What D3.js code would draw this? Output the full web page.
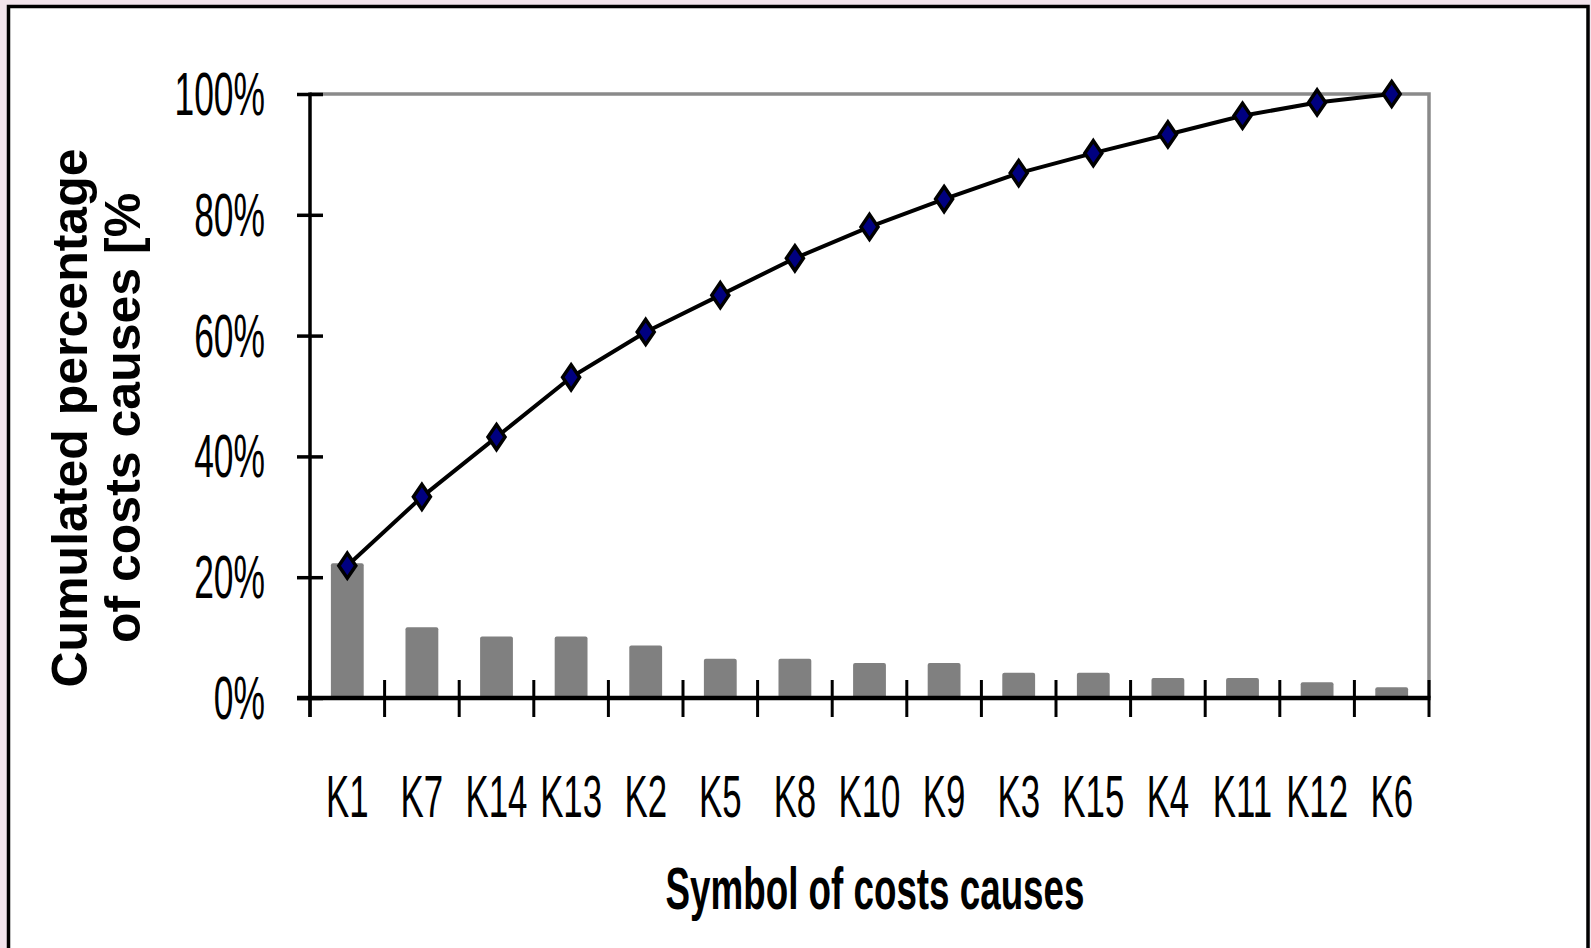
<!DOCTYPE html>
<html><head><meta charset="utf-8">
<script src="https://cdn.jsdelivr.net/npm/d3@7"></script>
<style>html,body{margin:0;padding:0;background:#f2e4ec;overflow:hidden}</style>
</head><body><svg id="c" width="1591" height="948"></svg>
<script>
const categories = ["K1","K7","K14","K13","K2","K5","K8","K10","K9","K3","K15","K4","K11","K12","K6"];
const shares = [22.3, 11.7, 10.2, 10.2, 8.7, 6.5, 6.5, 5.8, 5.8, 4.2, 4.2, 3.3, 3.3, 2.6, 1.8];
const cumulated = [21.9, 33.3, 43.2, 53.1, 60.6, 66.7, 72.8, 78.0, 82.6, 86.9, 90.2, 93.3, 96.4, 98.6, 100];
const yTicks = [0, 20, 40, 60, 80, 100];
const yTickLabels = ["0%", "20%", "40%", "60%", "80%", "100%"];
const xTitle = "Symbol of costs causes";
const yTitleLines = ["Cumulated percentage", "of costs causes [%"];

const W = 1591, H = 948;
const svg = d3.select("#c");
svg.append("rect").attr("width", W).attr("height", H).attr("fill", "#f2e4ec");
svg.append("rect").attr("x", 8.5).attr("y", 6.5).attr("width", 1579.5).attr("height", 980)
  .attr("fill", "#fff").attr("stroke", "#000").attr("stroke-width", 3.5);

const x = d3.scaleBand().domain(categories).range([310, 1429]).padding(0);
const y = d3.scaleLinear().domain([0, 100]).range([698, 94]);
const cx = c => x(c) + x.bandwidth() / 2;

// gray plot frame (top + right)
svg.append("path")
  .attr("d", `M${x.range()[0]},${y(100)}H${x.range()[1]}V${y(0)}`)
  .attr("fill", "none").attr("stroke", "#8a8a8a").attr("stroke-width", 3.5);

// bars
const bw = x.bandwidth() * 0.44;
svg.append("g").selectAll("rect").data(shares).join("rect")
  .attr("x", (d, i) => cx(categories[i]) - bw / 2)
  .attr("y", d => y(d))
  .attr("width", bw)
  .attr("height", d => y(0) - y(d))
  .attr("rx", 2)
  .attr("fill", "#808080");

// x axis
const xAxisG = svg.append("g").attr("transform", `translate(0,${y(0)})`)
  .call(d3.axisBottom(x).tickSize(0).tickFormat(""));
xAxisG.select(".domain").remove();
const bounds = categories.map(c => x(c)).concat([x.range()[1]]);
xAxisG.selectAll("line.bt").data(bounds).join("line").attr("class", "bt")
  .attr("x1", d => d).attr("x2", d => d).attr("y1", -18).attr("y2", 19)
  .attr("stroke", "#000").attr("stroke-width", 3);
xAxisG.append("line").attr("x1", 297).attr("x2", x.range()[1] + 1.5)
  .attr("stroke", "#000").attr("stroke-width", 4.5);

// x tick labels
svg.append("g").selectAll("text").data(categories).join("text")
  .attr("transform", d => `translate(${cx(d)},817) scale(0.58,1)`)
  .attr("text-anchor", "middle")
  .attr("font-family", "Liberation Sans, Arial, sans-serif")
  .attr("font-size", 60).attr("fill", "#000")
  .text(d => d);

// y axis
const yAxisG = svg.append("g").attr("transform", `translate(310,0)`)
  .call(d3.axisLeft(y).tickValues(yTicks).tickSize(13).tickFormat(""));
yAxisG.select(".domain").remove();
yAxisG.selectAll(".tick line").attr("x1", -13).attr("x2", 13)
  .attr("stroke", "#000").attr("stroke-width", 3.5);
yAxisG.append("line").attr("x1", 0).attr("x2", 0).attr("y1", y(100) - 1.5).attr("y2", y(0) + 19)
  .attr("stroke", "#000").attr("stroke-width", 3.5);

// y tick labels
svg.append("g").selectAll("text").data(yTicks).join("text")
  .attr("transform", d => `translate(265,${y(d) + 21}) scale(0.58,1)`)
  .attr("text-anchor", "end")
  .attr("font-family", "Liberation Sans, Arial, sans-serif")
  .attr("font-size", 61).attr("fill", "#000")
  .text((d, i) => yTickLabels[i]);

// cumulative line
const line = d3.line().x((d, i) => cx(categories[i])).y(d => y(d));
svg.append("path").datum(cumulated).attr("d", line)
  .attr("fill", "none").attr("stroke", "#000").attr("stroke-width", 4)
  .attr("stroke-linejoin", "round");

// diamond markers
svg.append("g").selectAll("path").data(cumulated).join("path")
  .attr("transform", (d, i) => `translate(${cx(categories[i])},${y(d)})`)
  .attr("d", "M0,-12.5L8.5,0L0,12.5L-8.5,0Z")
  .attr("fill", "#000080").attr("stroke", "#000").attr("stroke-width", 3.5)
  .attr("stroke-linejoin", "miter");

// x title
svg.append("text")
  .attr("transform", "translate(875,909) scale(0.613,1)")
  .attr("text-anchor", "middle")
  .attr("font-family", "Liberation Sans, Arial, sans-serif")
  .attr("font-weight", "bold").attr("font-size", 60).attr("fill", "#000")
  .text(xTitle);

// y title
const ytBase = [87, 140];
svg.append("g").selectAll("text").data(yTitleLines).join("text")
  .attr("transform", (d, i) => `translate(${ytBase[i]},418) rotate(-90)`)
  .attr("text-anchor", "middle")
  .attr("font-family", "Liberation Sans, Arial, sans-serif")
  .attr("font-weight", "bold").attr("font-size", 50).attr("fill", "#000")
  .text(d => d);
</script>
</body></html>
